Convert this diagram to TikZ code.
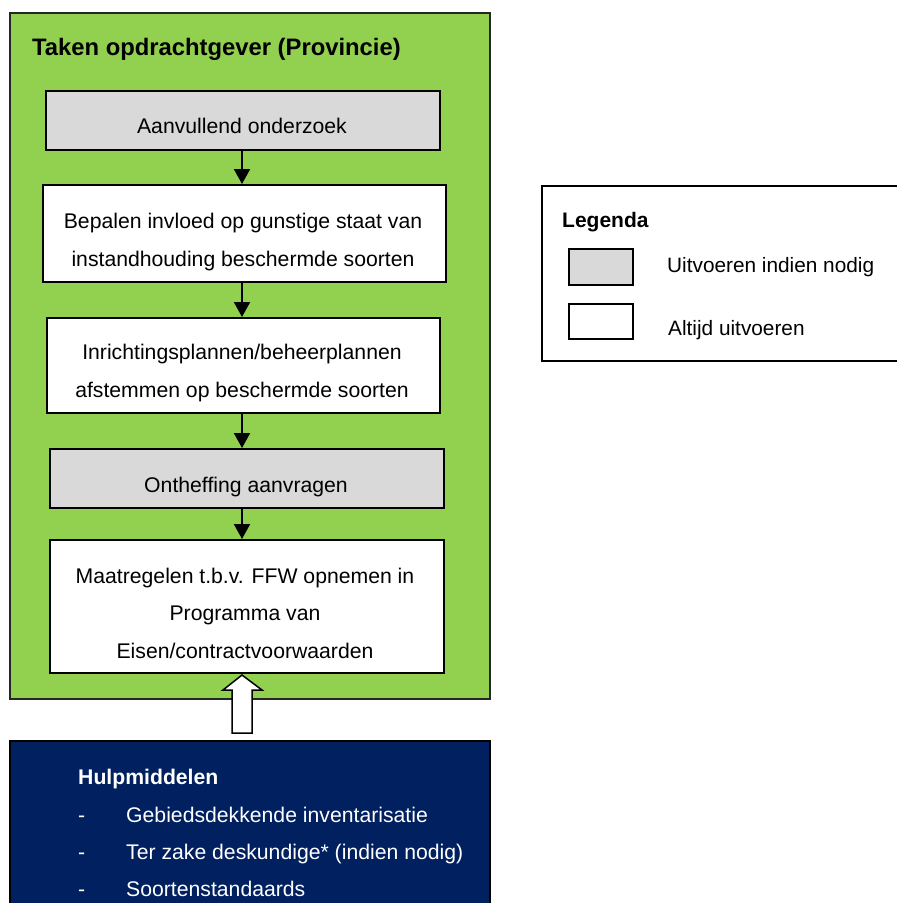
\documentclass[tikz,border=0pt]{standalone}
\usepackage{fontspec}
\setmainfont{Liberation Sans}
\usetikzlibrary{arrows.meta}
\definecolor{grn}{HTML}{92D050}
\definecolor{gry}{HTML}{D9D9D9}
\definecolor{navy}{HTML}{002060}
\tikzset{
  boxbase/.style={draw=black, line width=2pt, rectangle, inner sep=0pt, anchor=north west},
  graybox/.style={boxbase, fill=gry},
  whitebox/.style={boxbase, fill=white},
  txt/.style={font=\fontsize{21.2}{37.5}\selectfont, align=center, inner sep=0pt, anchor=base},
  arr/.style={line width=2pt, -{Triangle[length=15pt,width=16pt]}},
}
\begin{document}
\begin{tikzpicture}[x=1pt,y=-1pt]
\useasboundingbox (0,0) rectangle (897,903);
% green container
\node[draw=black!85, line width=1.8pt, fill=grn, minimum width=480, minimum height=686, inner sep=0pt, anchor=north west] (green) at (9,12) {};
\node[font=\bfseries\fontsize{23.8}{28}\selectfont, anchor=base west, inner sep=0pt] (title) at (32,55) {Taken opdrachtgever (Provincie)};
% step boxes
\node[graybox, minimum width=394, minimum height=59] (b1) at (45,90) {};
\node[whitebox, minimum width=403, minimum height=97] (b2) at (42,184) {};
\node[whitebox, minimum width=393, minimum height=95] (b3) at (46,317) {};
\node[graybox, minimum width=394, minimum height=59] (b4) at (49,448) {};
\node[whitebox, minimum width=394, minimum height=133] (b5) at (49,539) {};
% texts
\node[txt] (t1) at (242,133) {Aanvullend onderzoek};
\node[txt] (t2) at (243,266) {Bepalen invloed op gunstige staat van\\instandhouding beschermde soorten};
\node[txt] (t3) at (242,397) {Inrichtingsplannen/beheerplannen\\afstemmen op beschermde soorten};
\node[txt] (t4) at (246,492) {Ontheffing aanvragen};
\node[txt] (t5) at (245,658) {Maatregelen t.b.v. FFW opnemen in\\Programma van\\Eisen/contractvoorwaarden};
% arrows
\draw[arr] (b1.south -| 242,0) -- (b2.north -| 242,0);
\draw[arr] (b2.south -| 242,0) -- (b3.north -| 242,0);
\draw[arr] (b3.south -| 242,0) -- (b4.north -| 242,0);
\draw[arr] (b4.south -| 242,0) -- (b5.north -| 242,0);
% blue box
\node[draw=black, line width=1.8pt, fill=navy, minimum width=480, minimum height=175, inner sep=0pt, anchor=north west] (blue) at (9,740) {};
\node[font=\bfseries\fontsize{21.2}{25}\selectfont, text=white, anchor=base west, inner sep=0pt] (hulp) at (78,784) {Hulpmiddelen};
\foreach \y/\t [count=\i] in {822/Gebiedsdekkende inventarisatie, 859/Ter zake deskundige* (indien nodig), 896/Soortenstandaards}{
  \node[font=\fontsize{21.2}{25}\selectfont, text=white, anchor=base west, inner sep=0pt] (d\i) at (78,\y) {-};
  \node[font=\fontsize{21.2}{25}\selectfont, text=white, anchor=base west, inner sep=0pt] (h\i) at (126,\y) {\t};
}
% hollow arrow
\coordinate (tip) at (242,675);
\draw[line width=1.5pt, fill=white] (252,733) -- (252,690) -- (262,690) -- (tip) -- (223,690) -- (232,690) -- (232,733) -- cycle;
% legend
\node[draw=black, line width=1.8pt, fill=white, minimum width=380, minimum height=175, inner sep=0pt, anchor=north west] (legend) at (541,185) {};
\node[font=\bfseries\fontsize{21}{25}\selectfont, anchor=base west, inner sep=0pt] (legt) at (562,227) {Legenda};
\node[graybox, minimum width=64, minimum height=36] (lg1) at (568,248) {};
\node[whitebox, minimum width=64, minimum height=35] (lg2) at (568,303) {};
\node[font=\fontsize{20.8}{25}\selectfont, anchor=base west, inner sep=0pt] (lt1) at (667,272) {Uitvoeren indien nodig};
\node[font=\fontsize{20.8}{25}\selectfont, anchor=base west, inner sep=0pt] (lt2) at (668,335) {Altijd uitvoeren};
\end{tikzpicture}
\end{document}
